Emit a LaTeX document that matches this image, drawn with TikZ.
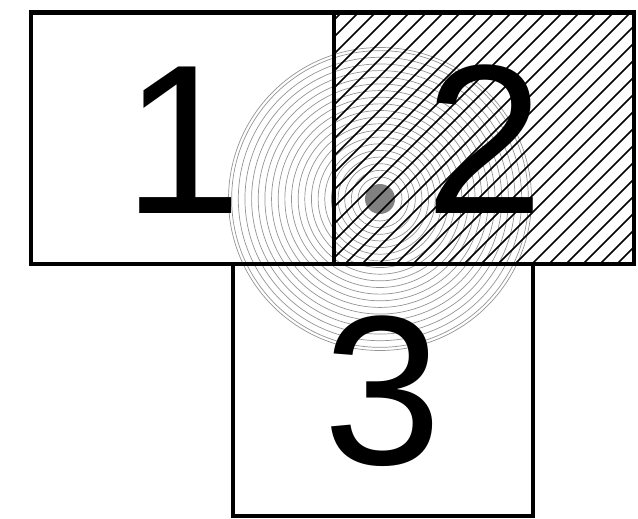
\documentclass[tikz,border=0pt]{standalone}
\usepackage{fontspec}
\setmainfont{Liberation Sans}
\begin{document}
\begin{tikzpicture}[x=1pt,y=-1pt,
  box/.style={draw=black,line width=4.5pt,rectangle,inner sep=0pt,outer sep=0pt,anchor=north west},
  ring/.style={draw=black!42,line width=0.7pt},
  hatchline/.style={draw=black,line width=1.5pt},
  digit/.style={font=\fontsize{213}{213}\selectfont,inner sep=0pt,anchor=base}]
\useasboundingbox (0,0) rectangle (638,519);
\coordinate (c) at (380,199);
% concentric rings
\foreach \k in {0,...,19}
  \draw[ring] (c) circle[radius={22+6.65*\k}];
\draw[ring] (c) circle[radius=151.5];
\fill[black!50] (c) circle[radius=15];
% hatching of box 2
\begin{scope}
  \clip (334,12.5) rectangle (634,264);
  \foreach \k in {20,...,53}
    \draw[hatchline] ({14+17*\k},0) -- ({14+17*\k-400},400);
\end{scope}
% boxes
\node[box,minimum width=303pt,minimum height=251.5pt] (b1) at (31,12.5) {};
\node[box,minimum width=300pt,minimum height=251.5pt] (b2) at (334,12.5) {};
\node[box,minimum width=300pt,minimum height=252pt] (b3) at (233,264) {};
% labels
\node[digit] (t1) at (183,213) {1};
\node[digit] (t2) at (485,213) {2};
\node[digit] (t3) at (383,464) {3};
\end{tikzpicture}
\end{document}
